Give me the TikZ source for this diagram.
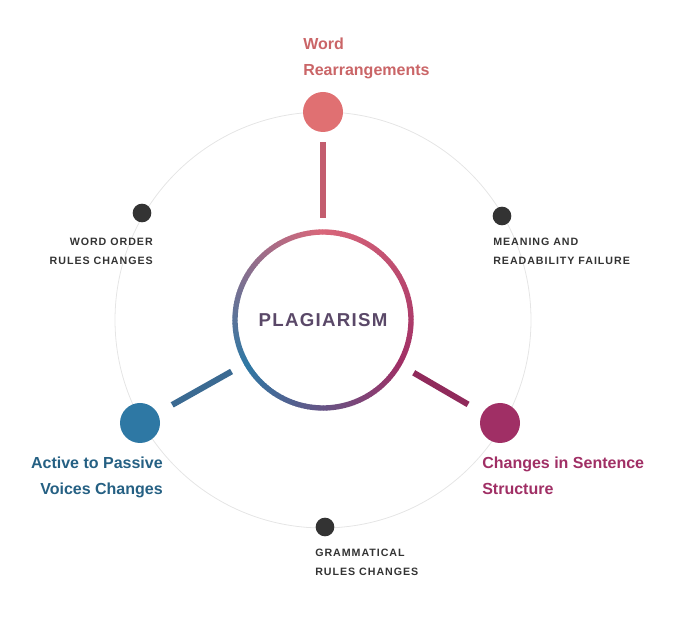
\documentclass[tikz,border=0pt]{standalone}
\usepackage{fontspec}
\setmainfont{Liberation Sans}
\newfontfamily\capsfont[LetterSpace=9]{Liberation Sans}
\newfontfamily\plagfont[LetterSpace=7]{Liberation Sans}
\usetikzlibrary{positioning}
\definecolor{wordred}{HTML}{E07072}
\definecolor{ringred}{HTML}{D9677A}
\definecolor{actblue}{HTML}{2E78A4}
\definecolor{chmag}{HTML}{A02F65}
\definecolor{dotgray}{HTML}{333333}
\definecolor{plagtxt}{HTML}{5A4868}
\tikzset{
    bigdot/.style={circle, minimum size=30pt, inner sep=0pt, fill=#1},
    smalldot/.style={circle, minimum size=14pt, inner sep=0pt, fill=dotgray},
    title/.style={font=\fontsize{12}{19.5}\selectfont\bfseries, text=#1},
    caps/.style={font=\capsfont\fontsize{8}{14}\selectfont\bfseries, text=dotgray},
    spoke/.style={line width=4.5pt, draw=#1}
}
\begin{document}
\begin{tikzpicture}[x=0.75pt, y=0.75pt]
\useasboundingbox (0,0) rectangle (680,620);

% outer circle
\draw[black!10, line width=0.6pt] (323,300) circle (208);

% gradient ring
\foreach \a in {90,92,...,448} {
    \pgfmathsetmacro{\t}{mod(\a-90,120)/120*100}
    \pgfmathtruncatemacro{\seg}{(\a-90)/120}
    \ifcase\seg
        \colorlet{segc}{actblue!\t!ringred}
    \or
        \colorlet{segc}{chmag!\t!actblue}
    \else
        \colorlet{segc}{ringred!\t!chmag}
    \fi
    \draw[segc, line width=4pt] ([shift={(\a:88)}]323,300) arc (\a:\a+2.4:88);
}
\node (plag) [circle, minimum size=132pt, inner sep=0pt] at (323,300)
    {\plagfont\fontsize{14}{18}\selectfont\bfseries\color{plagtxt}PLAGIARISM};

% big dots
\node (wr) [bigdot=wordred] at (323,508) {};
\node (ap) [bigdot=actblue] at (140,197) {};
\node (cs) [bigdot=chmag] at (500,197) {};

% small dots
\node (wo) [smalldot] at (142,407) {};
\node (mr) [smalldot] at (502,404) {};
\node (gr) [smalldot] at (325,93) {};

% spokes
\draw[spoke=ringred!90!black, shorten <=7.5pt, shorten >=10.5pt] (wr) -- (plag);
\draw[spoke=actblue!70!plagtxt, shorten <=12.5pt, shorten >=12.5pt] (ap) -- (plag);
\draw[spoke=chmag!90!black, shorten <=12.5pt, shorten >=12.5pt] (cs) -- (plag);

% labels
\node[title=wordred!90!black, align=left, anchor=south west, inner sep=0pt] at (303,541) {Word\\Rearrangements};
\node[title=actblue!80!black, align=right, anchor=north east, inner sep=0pt] at (163,163) {Active to Passive\\Voices Changes};
\node[title=chmag, align=left, anchor=north west, inner sep=0pt] at (482,163) {Changes in Sentence\\Structure};
\node[caps, align=right, anchor=north east, inner sep=0pt] at (153,382) {WORD ORDER\\RULES CHANGES};
\node[caps, align=left, anchor=north west, inner sep=0pt] at (493,382) {MEANING AND\\READABILITY FAILURE};
\node[caps, align=left, anchor=north west, inner sep=0pt] at (315,71) {GRAMMATICAL\\RULES CHANGES};
\end{tikzpicture}
\end{document}
